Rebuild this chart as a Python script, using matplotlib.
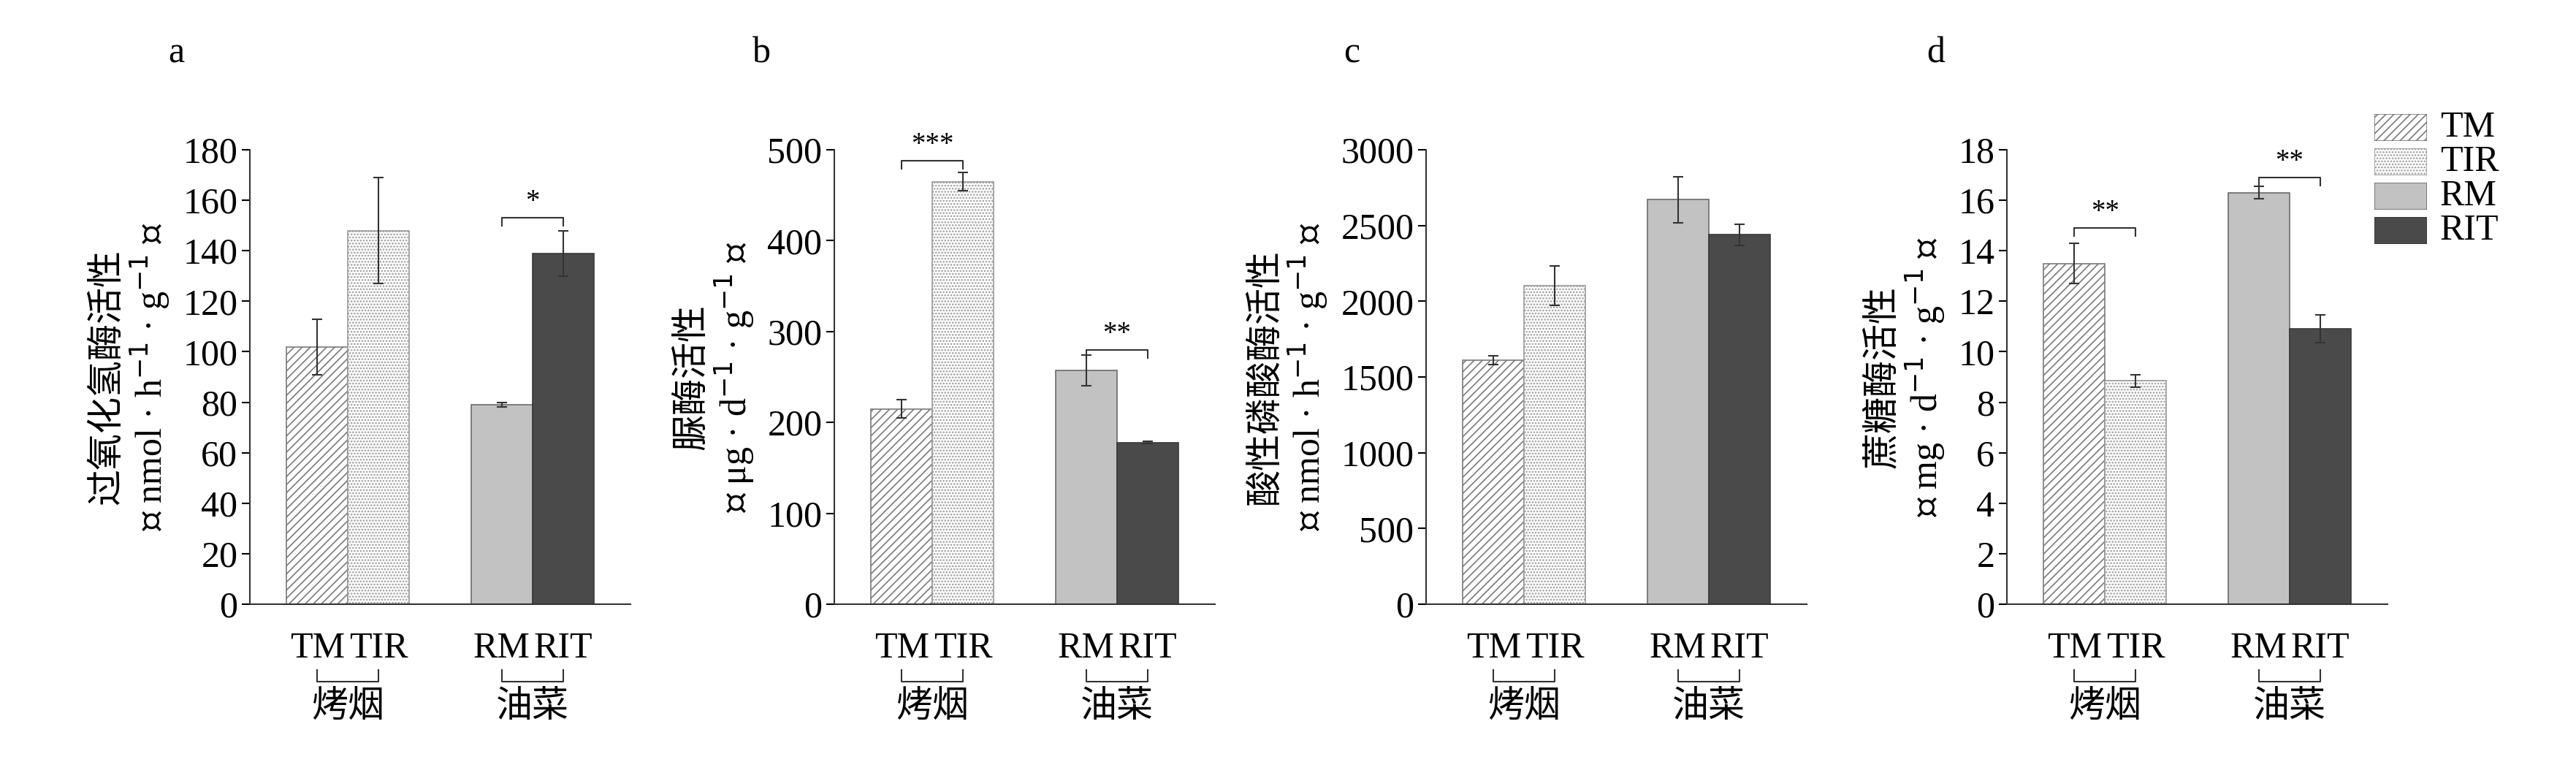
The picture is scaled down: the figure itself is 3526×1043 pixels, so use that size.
import matplotlib
matplotlib.use('Agg')
import matplotlib.pyplot as plt

plt.rcParams['font.family'] = ['Liberation Serif', 'Noto Sans CJK SC']
plt.rcParams['hatch.linewidth'] = 1.2

groups = ['TM', 'TIR', 'RM', 'RIT']
xpos = [0, 1, 3, 4]

cat_vals = [102, 148, 79, 139]
cat_err = [11, 21, 1, 9]
ure_vals = [215, 465, 257, 178]
ure_err = [10, 10, 17, 1]
acp_vals = [1610, 2105, 2670, 2440]
acp_err = [30, 130, 150, 70]
suc_vals = [13.5, 8.85, 16.3, 10.9]
suc_err = [0.8, 0.25, 0.25, 0.55]

# significance: (index a, index b, bracket y, stars)
panels = [
    ('a', cat_vals, cat_err, 180, 20, '过氧化氢酶活性', '（ nmol · h$^{-1}$ · g$^{-1}$ ）', [(2, 3, 153, '*')]),
    ('b', ure_vals, ure_err, 500, 100, '脲酶活性', '（ μg · d$^{-1}$ · g$^{-1}$ ）', [(0, 1, 488, '***'), (2, 3, 280, '**')]),
    ('c', acp_vals, acp_err, 3000, 500, '酸性磷酸酶活性', '（ nmol · h$^{-1}$ · g$^{-1}$ ）', []),
    ('d', suc_vals, suc_err, 18, 2, '蔗糖酶活性', '（ mg · d$^{-1}$ · g$^{-1}$ ）', [(0, 1, 14.9, '**'), (2, 3, 16.9, '**')]),
]
lefts = [342, 1142, 1952, 2747]
letter_x = [241, 1042, 1850, 2650]

faces = ['white', 'white', '#c2c2c2', '#4a4a4a']
hatches = ['///', '....', None, None]
edges = ['#7a7a7a', '#9a9a9a', '#6a6a6a', '#3a3a3a']

W, H = 3526, 1043
fig = plt.figure(figsize=(W / 100, H / 100), dpi=100)
fs = 36

for i, (letter, vals, errs, ymax, step, title, unit, sigs) in enumerate(panels):
    ax = fig.add_axes([lefts[i] / W, 1 - 827 / H, 521 / W, 622 / H])
    for j in range(4):
        ax.bar(xpos[j], vals[j], width=1, color=faces[j], hatch=hatches[j],
               edgecolor=edges[j], linewidth=1.2)
        ax.errorbar(xpos[j], vals[j], yerr=errs[j], color='#333333', capsize=5,
                    elinewidth=1.5, capthick=1.5)
    for a, b, y, s in sigs:
        h = ymax * 0.018
        ax.plot([xpos[a], xpos[a], xpos[b], xpos[b]], [y - h, y, y, y - h], color='#333333', lw=1.5)
        ax.text((xpos[a] + xpos[b]) / 2, y + ymax * 0.005, s, ha='center', va='bottom', fontsize=28)
    ax.set_xlim(-1.1, 5.1)
    ax.set_ylim(0, ymax)
    ax.set_yticks(range(0, int(ymax) + 1, int(step)))
    ax.set_xticks([])
    for sp in ['top', 'right']:
        ax.spines[sp].set_visible(False)
    for sp in ['left', 'bottom']:
        ax.spines[sp].set_color('#333333')
        ax.spines[sp].set_linewidth(1.5)
    ax.tick_params(axis='y', direction='out', length=8, width=1.5, labelsize=fs, pad=4)
    ax.set_ylabel(title + '\n' + unit, fontsize=fs, labelpad=10, linespacing=1.1)
    # group labels and brackets below the axis
    tr = ax.get_xaxis_transform()
    for a, b, name in [(0, 1, '烤烟'), (2, 3, '油菜')]:
        for k in (a, b):
            ax.text(xpos[k], -0.06, groups[k], transform=tr, ha='center', va='top', fontsize=fs)
        ax.plot([xpos[a], xpos[a], xpos[b], xpos[b]], [-0.145, -0.17, -0.17, -0.145],
                transform=tr, clip_on=False, color='#333333', lw=1.5)
        ax.text((xpos[a] + xpos[b]) / 2, -0.19, name, transform=tr,
                ha='center', va='top', fontsize=fs)
    fig.text(letter_x[i] / W, 1 - 73 / H, letter, fontsize=fs, ha='center', va='center')

# legend
for j in range(4):
    y0 = 156 + j * 47
    lax = fig.add_axes([3250 / W, 1 - (y0 + 37) / H, 72 / W, 37 / H])
    lax.add_patch(plt.Rectangle((0, 0), 1, 1, facecolor=faces[j], hatch=hatches[j],
                                edgecolor=edges[j], linewidth=1.2))
    lax.set_xlim(0, 1)
    lax.set_ylim(0, 1)
    lax.axis('off')
    fig.text(3340 / W, 1 - (y0 + 19) / H, groups[j], fontsize=fs, va='center', ha='left')

fig.savefig('out.png', dpi=100, facecolor='white')
